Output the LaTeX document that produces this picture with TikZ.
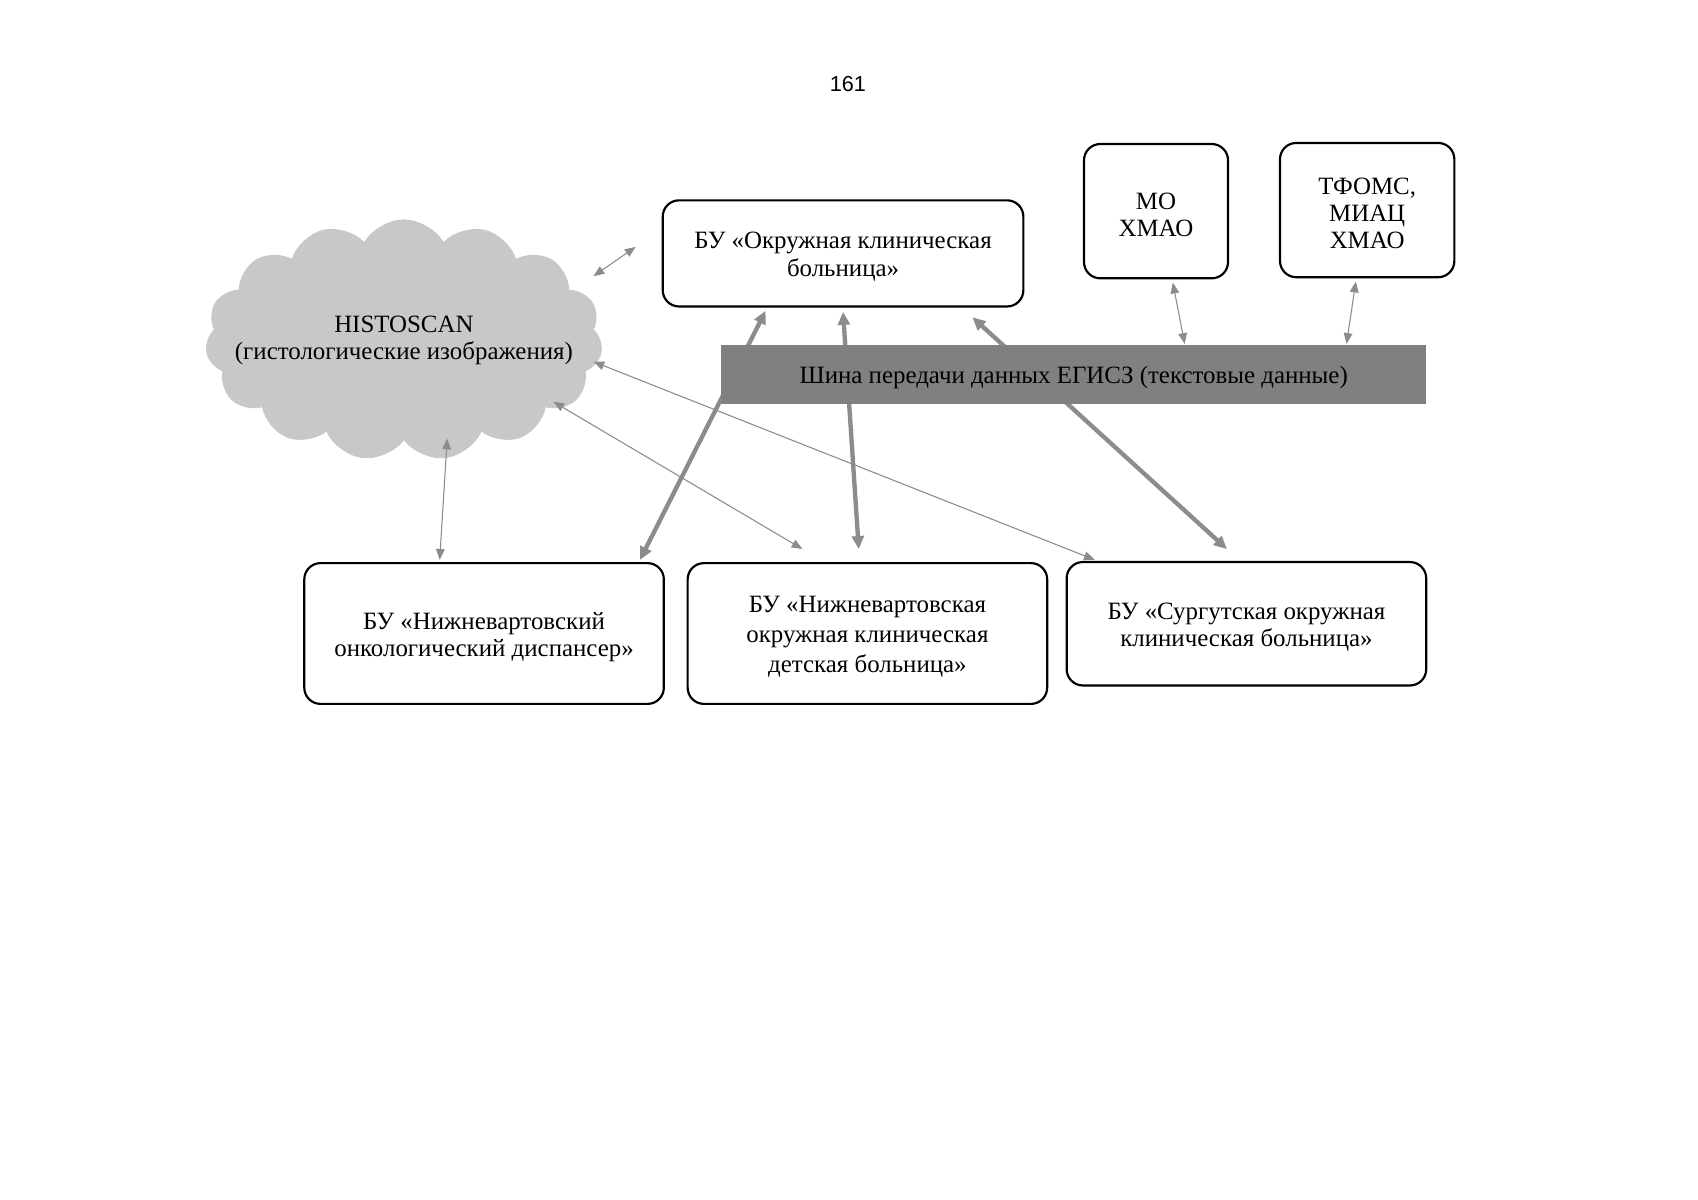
\documentclass[tikz,border=0pt]{standalone}
\usepackage{fontspec}
\setmainfont{Liberation Serif}
\newfontfamily\pagefont{Liberation Sans}
\usetikzlibrary{shapes.symbols,arrows.meta}
\definecolor{argray}{RGB}{140,140,140}
\definecolor{busgray}{RGB}{128,128,128}
\definecolor{cloudgray}{RGB}{200,200,200}
\begin{document}
\begin{tikzpicture}[x=0.5pt,y=-0.5pt,
  box/.style={draw=black,line width=1pt,rounded corners=7.5pt,fill=white,inner sep=0pt},
  thinarr/.style={draw=argray,line width=0.5pt,{Triangle[length=5pt,width=4pt]}-{Triangle[length=5pt,width=4pt]}},
  thickarr/.style={draw=argray,line width=2pt,{Triangle[length=6pt,width=5.5pt]}-{Triangle[length=6pt,width=5.5pt]}},
  lbl/.style={align=center,inner sep=0pt,yshift=-1.5pt,font=\fontsize{11.5}{12.5}\selectfont},
  lblwide/.style={lbl,font=\fontsize{11.5}{14}\selectfont}
]
\useasboundingbox (0,0) rectangle (1568,1108);
\node[font=\pagefont\fontsize{10}{12}\selectfont] (pg) at (783,78) {161};

% cloud
\node[cloud, cloud puffs=15, cloud puff arc=120, cloud ignores aspect, fill=cloudgray, draw=cloudgray, minimum width=183pt, minimum height=111pt, inner sep=0pt] (cloud) at (373,314) {};
\node[lbl] (cloudtext) at (373,311.5) {HISTOSCAN\\(гистологические изображения)};

% boxes
\node[box, minimum width=166.5pt, minimum height=49pt, label={[lbl]center:БУ «Окружная клиническая\\больница»}] (okr) at (778.5,234) {};
\node[box, minimum width=66.5pt, minimum height=62pt, label={[lbl]center:МО\\ХМАО}] (mo) at (1067.5,195) {};
\node[box, minimum width=80.5pt, minimum height=62pt, label={[lbl]center:ТФОМС,\\МИАЦ\\ХМАО}] (tf) at (1262.5,194) {};
\node[box, minimum width=166pt, minimum height=65pt, label={[lbl]center:БУ «Нижневартовский\\онкологический диспансер»}] (a) at (447,585) {};
\node[box, minimum width=166pt, minimum height=65pt, label={[lblwide]center:БУ «Нижневартовская\\окружная клиническая\\детская больница»}] (b) at (801,585) {};
\node[box, minimum width=166pt, minimum height=57pt, label={[lbl]center:БУ «Сургутская окружная\\клиническая больница»}] (c) at (1151,576) {};

% thick connectors (behind bus)
\draw[thickarr] ([xshift=-35.75pt,yshift=-1.5pt]okr.south) -- ([xshift=-11.5pt,yshift=1pt]a.north east);
\draw[thickarr] ([xshift=0pt,yshift=-2pt]okr.south) -- ([xshift=-4pt,yshift=6pt]b.north);
\draw[thickarr] ([xshift=-24pt,yshift=-4.5pt]okr.south east) -- ([xshift=-9pt,yshift=5.5pt]c.north);

% thin connectors
\draw[thinarr] ([xshift=87.5pt,yshift=29.5pt]cloud.center) -- ([xshift=-12pt,yshift=3pt]okr.west);
\draw[thinarr] ([xshift=20pt,yshift=-45.5pt]cloud.center) -- ([xshift=-20.5pt,yshift=1pt]a.north);
\draw[thinarr] ([xshift=69pt,yshift=-28.5pt]cloud.center) -- ([xshift=-30pt,yshift=6pt]b.north);
\draw[thinarr] ([xshift=87.5pt,yshift=-10pt]cloud.center) -- ([xshift=13.5pt,yshift=0.5pt]c.north west);

% bus
\node[fill=busgray, minimum width=325.5pt, minimum height=27pt, inner sep=0pt, label={[lbl]center:Шина передачи данных ЕГИСЗ (текстовые данные)}] (bus) at (991.5,346) {};

\draw[thinarr] ([xshift=7.75pt,yshift=-1.5pt]mo.south) -- ([xshift=51.25pt,yshift=0.5pt]bus.north);
\draw[thinarr] ([xshift=-5.25pt,yshift=-1.5pt]tf.south) -- ([xshift=-37pt,yshift=0.5pt]bus.north east);
\end{tikzpicture}
\end{document}
